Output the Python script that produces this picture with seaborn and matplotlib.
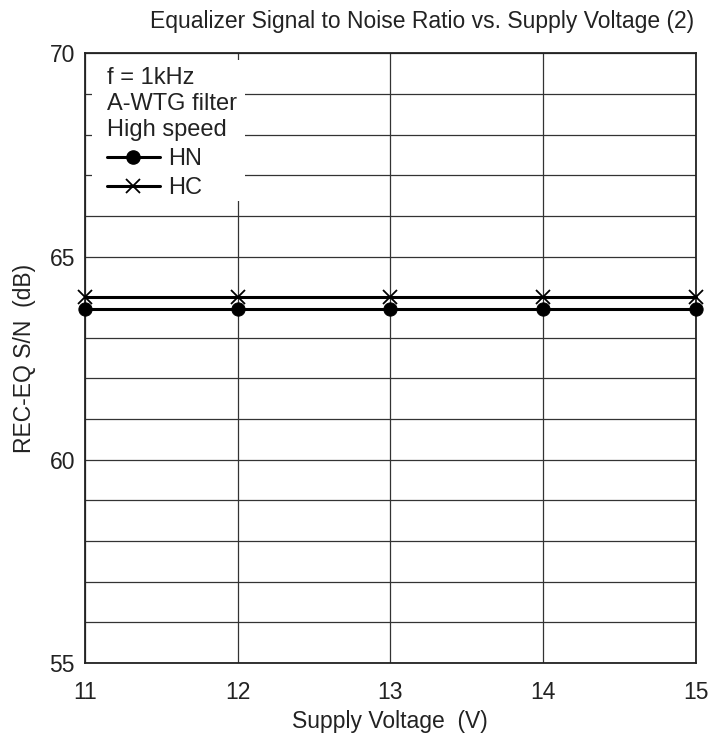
import matplotlib
matplotlib.use("Agg")
import matplotlib.pyplot as plt
import seaborn as sns
import pandas as pd
from matplotlib.lines import Line2D
from matplotlib.patches import Rectangle

# data
voltage = [11, 12, 13, 14, 15]
hn = [63.7, 63.7, 63.7, 63.7, 63.7]
hc = [64.0, 64.0, 64.0, 64.0, 64.0]

sns.set_theme(style="white")
plt.rcParams['font.family'] = ['Liberation Sans', 'DejaVu Sans']

df = pd.DataFrame({"voltage": voltage, "HN": hn, "HC": hc})

fig = plt.figure(figsize=(7.12, 7.40), dpi=100)
ax = fig.add_axes([0.119, 0.104, 0.8585, 0.824])

sns.lineplot(data=df, x="voltage", y="HN", ax=ax, color="black", lw=2.2,
             marker="o", markersize=9.5, markeredgecolor="black",
             clip_on=False, zorder=4)
sns.lineplot(data=df, x="voltage", y="HC", ax=ax, color="black", lw=2.2,
             marker="x", markersize=9.5, markeredgewidth=1.3,
             markeredgecolor="black", clip_on=False, zorder=4)

ax.set_xlim(11, 15)
ax.set_ylim(55, 70)
ax.set_xticks(voltage)
ax.set_yticks([55, 60, 65, 70])
ax.set_yticks(range(55, 71), minor=True)
ax.grid(True, which="both", color="#333333", lw=0.9)
ax.tick_params(axis="both", which="both", length=0, labelsize=16.5,
               colors="#222222")
ax.tick_params(axis="x", pad=13)
ax.tick_params(axis="y", pad=7)
for s in ax.spines.values():
    s.set_color("#222222")
    s.set_linewidth(1.3)

ax.set_xlabel("Supply Voltage  (V)", fontsize=16.5, color="#222222",
              labelpad=4)
ax.set_ylabel("REC-EQ S/N  (dB)", fontsize=16.5, color="#222222",
              labelpad=10)
ax.set_title("Equalizer Signal to Noise Ratio vs. Supply Voltage (2)",
             fontsize=16.5, color="#222222", pad=18, x=0.552)

# white background behind the legend block (hides the grid)
ax.add_patch(Rectangle((0.0115, 0.757), 0.25, 0.2315,
                       transform=ax.transAxes, facecolor="white",
                       edgecolor="none", zorder=1))

handles = [
    Line2D([], [], color="black", lw=2.2, marker="o", markersize=9.5),
    Line2D([], [], color="black", lw=2.2, marker="x", markersize=9.5,
           markeredgewidth=1.3),
]
leg = ax.legend(handles, ["HN", "HC"],
                title="f = 1kHz\nA-WTG filter\nHigh speed",
                loc="upper left", bbox_to_anchor=(0.036, 0.977),
                fontsize=17, title_fontsize=17, alignment="left",
                frameon=False, handlelength=2.25, handletextpad=0.34,
                borderaxespad=0, borderpad=0, labelspacing=0.3)
leg.get_title().set_color("#222222")
leg.get_title().set_linespacing(1.22)
for t in leg.get_texts():
    t.set_color("#222222")
leg.set_zorder(5)

plt.savefig("out.png", dpi=100)
